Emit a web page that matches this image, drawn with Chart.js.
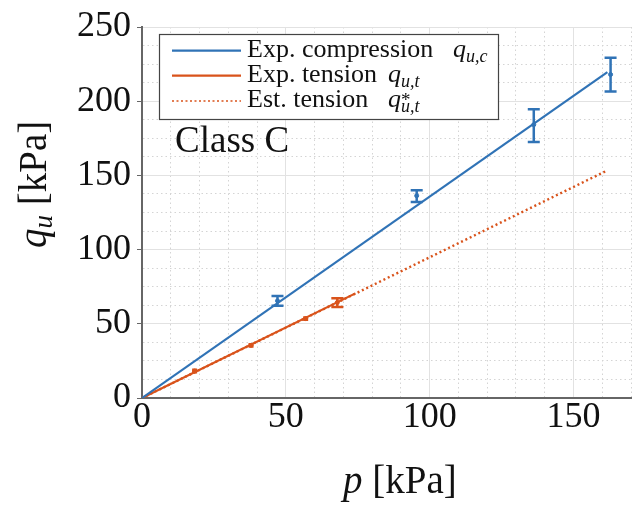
<!DOCTYPE html>
<html>
<head>
<meta charset="utf-8">
<script src="https://cdn.jsdelivr.net/npm/chart.js@4/dist/chart.umd.min.js"></script>
<style>html,body{margin:0;padding:0;background:#fff}</style>
</head>
<body>
<canvas id="qu" width="636" height="505" style="width:636px;height:505px"></canvas>
<script>
// compression tests (mean + error bar ends)
const compP = [47.1, 95.5, 136.2, 162.9];
const compQ = [65.5, 136.3, 184.2, 218.0];
const compLo = [62.1, 132.1, 172.5, 206.6];
const compHi = [68.8, 140.0, 194.5, 229.3];
// tension tests
const tensP = [18.3, 37.9, 56.9, 67.9];
const tensQ = [18.2, 35.5, 53.5, 64.4];
const tensLo = [17.4, 34.7, 52.7, 61.4];
const tensHi = [19.0, 36.3, 54.3, 67.3];
// fitted / estimated lines
const compFitP = [0, 161.8];
const compFitQ = [0, 219.6];
const tensFitP = [0, 74.2];
const tensFitQ = [0, 70.5];
const estP = [0, 161.8];
const estQ = [0, 153.4];

const xTicks = [0, 50, 100, 150];
const yTicks = [0, 50, 100, 150, 200, 250];

const blue = '#3073b6';
const orange = '#d9531b';
const serif = '"Liberation Serif", "DejaVu Serif", serif';

function pts(xs, ys) {
	return xs.map(function(x, i) { return {x: x, y: ys[i]}; });
}

function richText(ctx, x, y, parts) {
	let cx = x;
	parts.forEach(function(p) {
		ctx.font = (p.italic ? 'italic ' : '') + p.size + 'px ' + serif;
		ctx.fillText(p.t, cx, y + (p.dy || 0));
		if (!p.stack) cx += ctx.measureText(p.t).width;
	});
	return cx;
}

function isMajor(v) { return Math.abs(v % 50) < 1e-6; }

const extras = {
	id: 'extras',
	afterDatasetsDraw: function(chart) {
		const ctx = chart.ctx;
		const xs = chart.scales.x, ys = chart.scales.y;
		function bars(P, Lo, Hi, color, lw) {
			ctx.save();
			ctx.strokeStyle = color;
			ctx.lineWidth = lw;
			for (let i = 0; i < P.length; i++) {
				const px = xs.getPixelForValue(P[i]);
				const y1 = ys.getPixelForValue(Lo[i]);
				const y2 = ys.getPixelForValue(Hi[i]);
				const w = Math.abs(y1 - y2) > 4 ? 6 : 2.5;
				ctx.beginPath();
				ctx.moveTo(px, y1); ctx.lineTo(px, y2);
				ctx.moveTo(px - w, y1); ctx.lineTo(px + w, y1);
				ctx.moveTo(px - w, y2); ctx.lineTo(px + w, y2);
				ctx.stroke();
			}
			ctx.restore();
		}
		bars(compP, compLo, compHi, blue, 2.5);
		bars(tensP, tensLo, tensHi, orange, 2.5);
	},
	afterDraw: function(chart) {
		const ctx = chart.ctx;
		ctx.save();
		ctx.fillStyle = '#111';
		ctx.textBaseline = 'alphabetic';
		ctx.textAlign = 'left';

		// axis titles
		richText(ctx, 343, 493, [
			{t: 'p', italic: true, size: 39},
			{t: ' [kPa]', size: 39}
		]);
		ctx.save();
		ctx.translate(46, 248);
		ctx.rotate(-Math.PI / 2);
		richText(ctx, 0, 0, [
			{t: 'q', italic: true, size: 39},
			{t: 'u', italic: true, size: 27, dy: 6},
			{t: ' [kPa]', size: 39}
		]);
		ctx.restore();

		// class label
		richText(ctx, 175, 152, [{t: 'Class C', size: 37}]);

		// legend box
		ctx.fillStyle = '#fff';
		ctx.fillRect(159.5, 34.5, 339, 85);
		ctx.strokeStyle = '#444';
		ctx.lineWidth = 1.2;
		ctx.strokeRect(159.5, 34.5, 339, 85);
		const rows = [
			{label: 'Exp. compression', mx: 453, sub: 'u,c', star: false, color: blue, dash: [], y: 50.7},
			{label: 'Exp. tension', mx: 388, sub: 'u,t', star: false, color: orange, dash: [], y: 75.7},
			{label: 'Est. tension', mx: 388, sub: 'u,t', star: true, color: orange, dash: [2, 2.5], y: 101}
		];
		rows.forEach(function(r) {
			ctx.save();
			ctx.strokeStyle = r.color;
			ctx.lineWidth = r.dash.length ? 1.6 : 2.2;
			ctx.setLineDash(r.dash);
			ctx.beginPath();
			ctx.moveTo(172, r.y); ctx.lineTo(241, r.y);
			ctx.stroke();
			ctx.restore();
			ctx.fillStyle = '#111';
			richText(ctx, 247, r.y + 6, [{t: r.label, size: 26}]);
			const parts = [{t: 'q', italic: true, size: 26}];
			if (r.star) parts.push({t: '*', size: 19, dy: -1, stack: true});
			parts.push({t: r.sub, italic: true, size: 18, dy: 5});
			richText(ctx, r.mx, r.y + 6, parts);
		});
		ctx.restore();
	}
};

function gridColor(c) {
	if (!c.tick) return '#ddd';
	return isMajor(c.tick.value) ? '#e2e2e2' : '#d4d4d4';
}
function gridDash(c) {
	if (!c.tick) return [];
	return isMajor(c.tick.value) ? [] : [1.5, 3];
}
function tickColor(c) {
	return c.tick && isMajor(c.tick.value) ? '#666' : 'rgba(0,0,0,0)';
}

new Chart(document.getElementById('qu'), {
	type: 'scatter',
	data: {
		datasets: [
			{label: 'Est. tension', data: pts(estP, estQ), showLine: true, borderColor: orange,
				borderWidth: 2.4, borderDash: [2, 2.8], pointRadius: 0, order: 3},
			{label: 'Exp. tension', data: pts(tensFitP, tensFitQ), showLine: true, borderColor: orange,
				borderWidth: 2.2, pointRadius: 0, order: 2},
			{label: 'Exp. compression', data: pts(compFitP, compFitQ), showLine: true, borderColor: blue,
				borderWidth: 2.2, pointRadius: 0, order: 1},
			{label: 'comp pts', data: pts(compP, compQ), showLine: false, backgroundColor: blue,
				borderColor: blue, pointRadius: 2, order: 0},
			{label: 'tens pts', data: pts(tensP, tensQ), showLine: false, backgroundColor: orange,
				borderColor: orange, pointRadius: 2, order: 0}
		]
	},
	options: {
		responsive: false,
		animation: false,
		devicePixelRatio: 1,
		layout: {padding: {top: 27, right: 3, left: 0, bottom: 0}},
		plugins: {legend: {display: false}, tooltip: {enabled: false}},
		scales: {
			x: {
				type: 'linear', min: 0, max: 170,
				afterFit: function(s) { s.height = 107; },
				ticks: {
					stepSize: 10, autoSkip: false, maxRotation: 0, padding: 2,
					color: '#111', font: {family: serif, size: 36, lineHeight: 1},
					callback: function(v) { return xTicks.indexOf(v) >= 0 ? String(v) : ''; }
				},
				grid: {color: gridColor, lineWidth: 1, drawTicks: false},
				border: {display: true, color: '#666', width: 2, dash: gridDash}
			},
			y: {
				type: 'linear', min: 0, max: 250,
				afterFit: function(s) { s.width = 142; },
				ticks: {
					stepSize: 12.5, autoSkip: false, padding: 6,
					color: '#111', font: {family: serif, size: 36, lineHeight: 1},
					callback: function(v) { return yTicks.indexOf(v) >= 0 ? String(v) : ''; }
				},
				grid: {color: gridColor, lineWidth: 1, tickLength: 5, tickColor: tickColor},
				border: {display: true, color: '#666', width: 2, dash: gridDash}
			}
		}
	},
	plugins: [extras]
});
</script>
</body>
</html>
